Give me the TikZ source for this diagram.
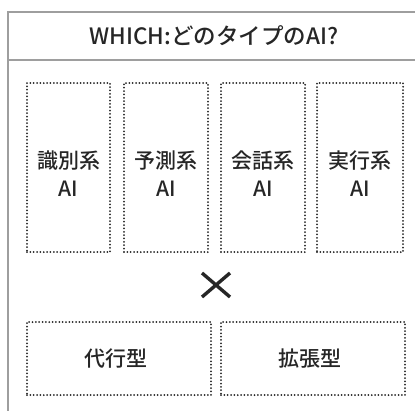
\documentclass[tikz,border=0pt]{standalone}
\usepackage{fontspec}
\setmainfont{Noto Sans CJK JP Medium}
\begin{document}
\begin{tikzpicture}[x=1pt,y=-1pt,
  frame/.style={draw=black!38,line width=1.8pt},
  dotbox/.style={draw=black!85,line width=2pt,line cap=round,dash pattern=on 0pt off 3.35pt,inner sep=0pt},
  lbl/.style={text=black!85,font=\fontsize{21}{28}\selectfont,align=center,inner sep=0pt},
]
\useasboundingbox (0,0) rectangle (415,410);
% outer frame (right and bottom edges run off the picture)
\draw[frame] (8,420) -- (8,12) -- (425,12);
\draw[frame] (8,60) -- (425,60);
\node[lbl,font=\fontsize{22.5}{24}\selectfont] (title) at (214,36) {WHICH:どのタイプのAI?};
% top boxes
\node[dotbox,minimum width=83pt,minimum height=169pt] (b1) at (68.5,167.5) {};
\node[dotbox,minimum width=84pt,minimum height=169pt] (b2) at (166,167.5) {};
\node[dotbox,minimum width=84pt,minimum height=169pt] (b3) at (263,167.5) {};
\node[dotbox,minimum width=86pt,minimum height=169pt] (b4) at (360,167.5) {};
\node[lbl] (t1) at (b1.center) [yshift=-6pt] {識別系\\AI};
\node[lbl] (t2) at (b2.center) [yshift=-6pt] {予測系\\AI};
\node[lbl] (t3) at (b3.center) [yshift=-6pt] {会話系\\AI};
\node[lbl] (t4) at (b4.center) [yshift=-6pt] {実行系\\AI};
% cross
\node (x) at (216,285) {};
\draw[black!85,line width=3.4pt] (202,273) -- (230,297) (230,273) -- (202,297);
% bottom boxes
\node[dotbox,minimum width=184pt,minimum height=73pt] (c1) at (119,358.5) {};
\node[dotbox,minimum width=184pt,minimum height=73pt] (c2) at (313,358.5) {};
\node[lbl] (u1) at (c1.center) [xshift=-3pt] {代行型};
\node[lbl] (u2) at (c2.center) [xshift=-3pt] {拡張型};
\end{tikzpicture}
\end{document}
